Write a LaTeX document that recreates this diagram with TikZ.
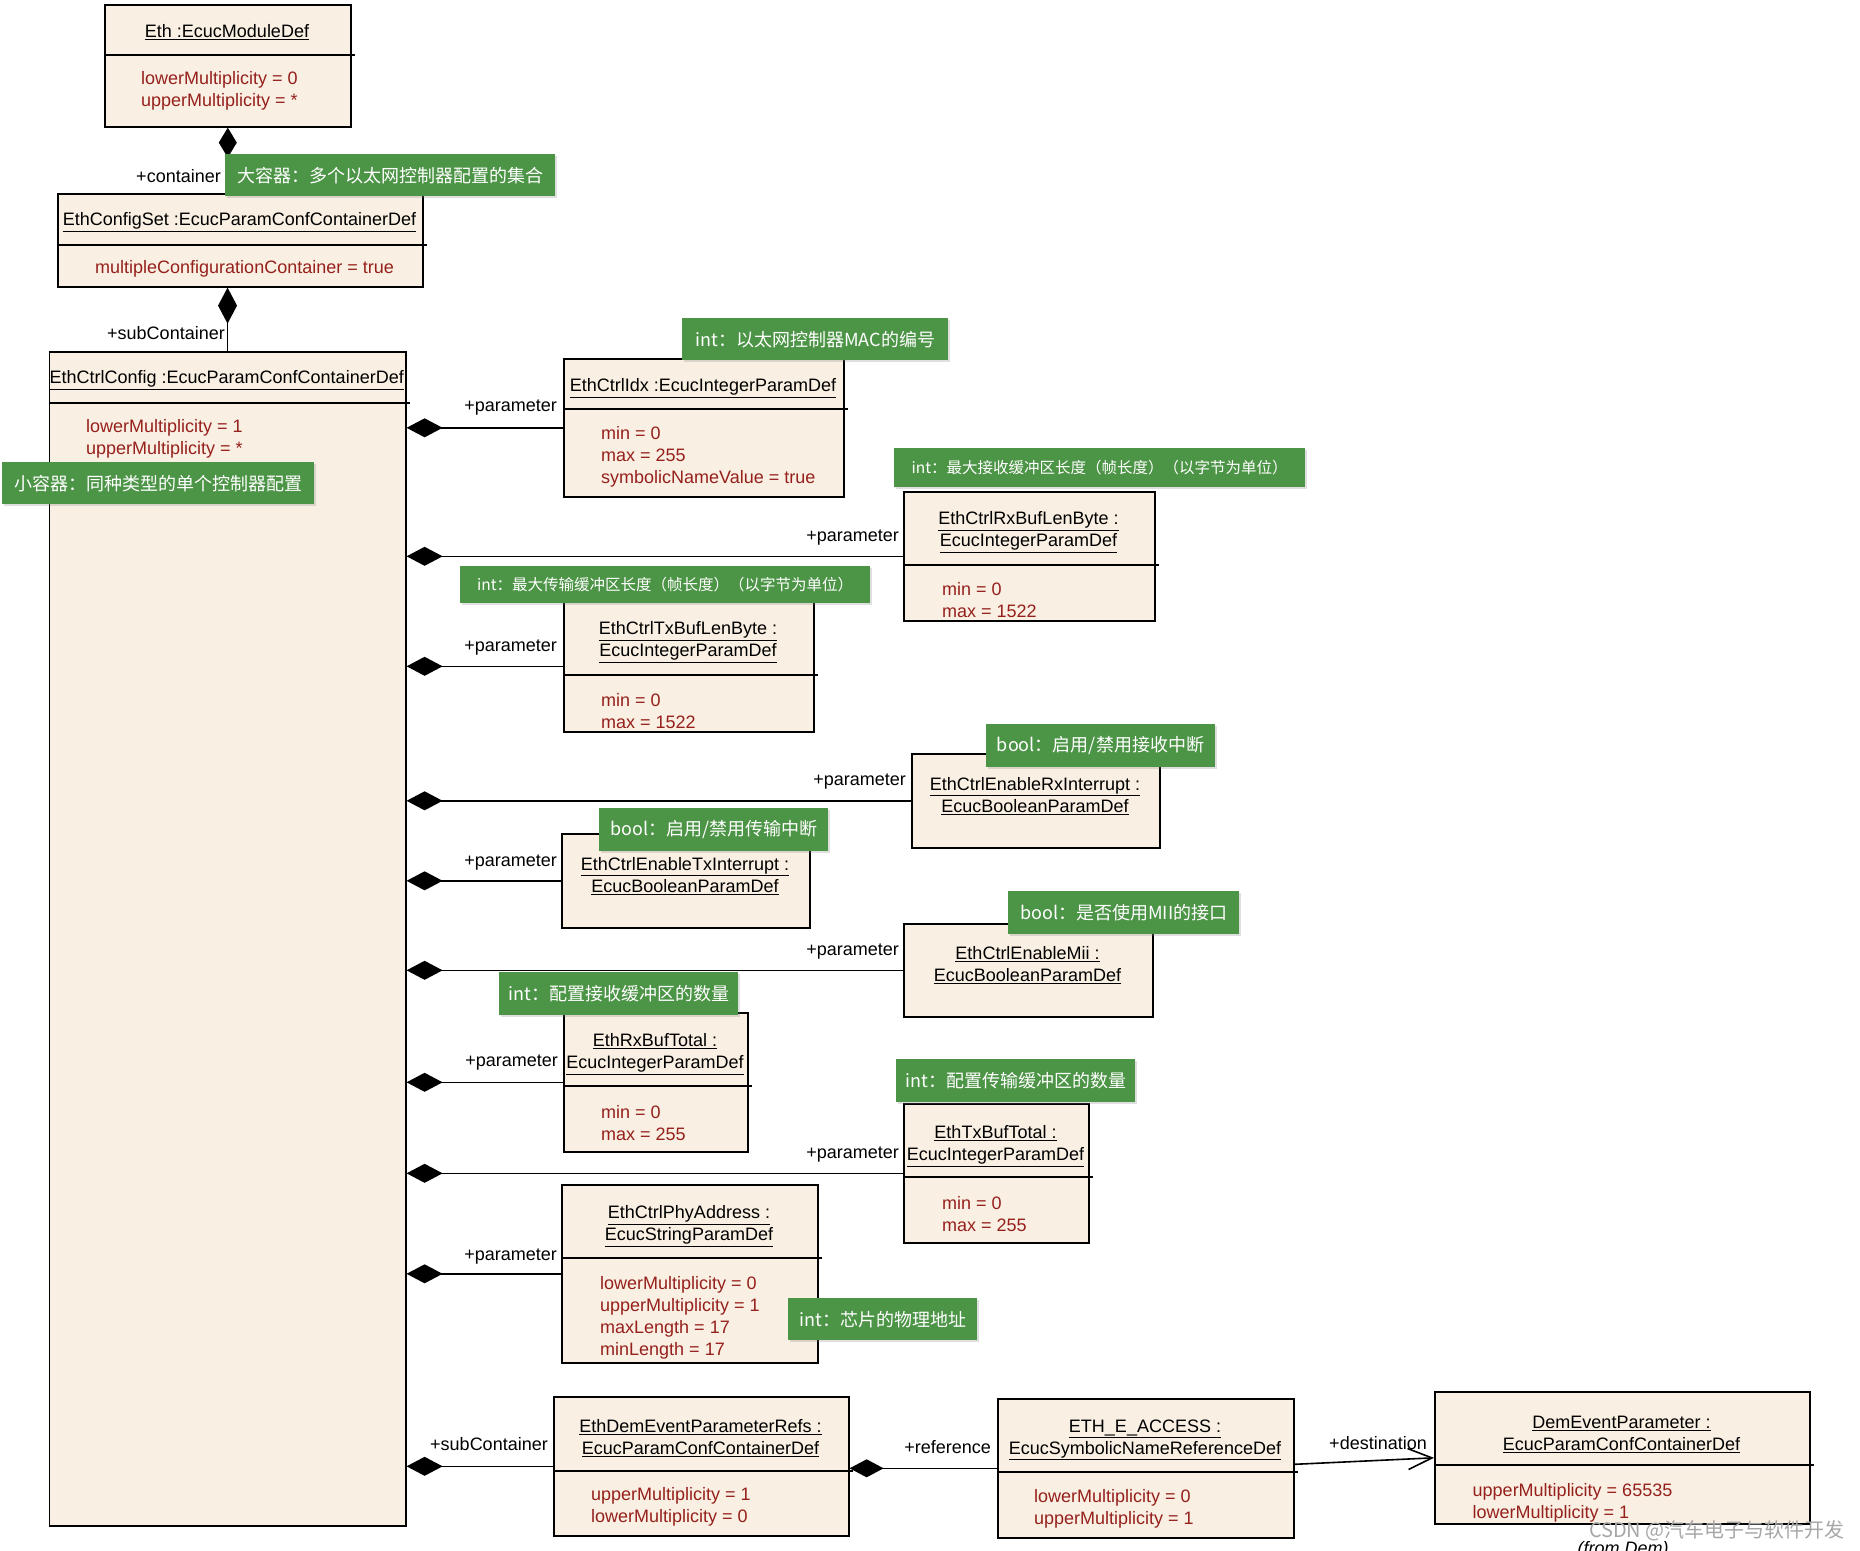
\documentclass[tikz,border=0pt]{standalone}
\usepackage{fontspec}
\setmainfont{Liberation Sans}
\newfontfamily\cjk{Noto Sans CJK SC}
\usetikzlibrary{arrows.meta,positioning,shadows}

\definecolor{boxfill}{RGB}{249,240,227}
\definecolor{attred}{RGB}{150,32,28}
\definecolor{notegreen}{RGB}{76,148,70}
\newcommand{\fs}{\fontsize{18}{22}\selectfont}
\newcommand{\fsn}{\fontsize{15.5}{19}\selectfont}

\tikzset{
  box/.style={draw, line width=1.6pt, fill=boxfill, anchor=north west, inner sep=0pt},
  sepl/.style={line width=1.6pt},
  ttl/.style={font=\fs, align=center, inner sep=0pt},
  att/.style={font=\fs, align=left, text=attred, anchor=west, inner sep=0pt},
  lbl/.style={font=\fs, anchor=east, inner sep=0pt},
  note/.style={fill=notegreen, text=white, font=\cjk\fs, anchor=north west, inner sep=0pt,
    drop shadow={opacity=0.25, shadow xshift=2pt, shadow yshift=-2pt}},
  comp/.style={line width=1.6pt, -{Diamond[length=36pt,width=19pt]}},
  dest/.style={line width=1.6pt, -{Straight Barb[length=24pt,width=21pt]}},
}

\begin{document}
\begin{tikzpicture}[x=1pt,y=-1pt]
\useasboundingbox (0,0) rectangle (1860,1550);

% class boxes
\node[box, minimum width=246pt, minimum height=122pt] (eth) at (104,4) {};
\node[box, minimum width=365pt, minimum height=93pt] (set) at (57,193) {};
\node[box, minimum width=356.5pt, minimum height=1174pt] (cfg) at (48.5,351) {};
\node[box, minimum width=280pt, minimum height=138pt] (idx) at (563,358) {};
\node[box, minimum width=251pt, minimum height=129pt] (rxlen) at (903,491) {};
\node[box, minimum width=250pt, minimum height=131pt] (txlen) at (563,600) {};
\node[box, minimum width=248pt, minimum height=94pt] (rxint) at (911,753) {};
\node[box, minimum width=248pt, minimum height=94pt] (txint) at (561,833) {};
\node[box, minimum width=249pt, minimum height=93pt] (mii) at (903,923) {};
\node[box, minimum width=184pt, minimum height=139pt] (rxtot) at (563,1012) {};
\node[box, minimum width=185pt, minimum height=139pt] (txtot) at (903,1103) {};
\node[box, minimum width=256pt, minimum height=178pt] (phy) at (561,1184) {};
\node[box, minimum width=295pt, minimum height=139pt] (refs) at (553,1396) {};
\node[box, minimum width=296pt, minimum height=139pt] (acc) at (997,1398) {};
\node[box, minimum width=375pt, minimum height=132pt] (dem) at (1434,1391) {};

% compartment lines
\draw[sepl] (eth.west |- 0,55) -- ([xshift=3pt]eth.east |- 0,55);
\draw[sepl] (set.west |- 0,245) -- ([xshift=3pt]set.east |- 0,245);
\draw[sepl] (cfg.west |- 0,403) -- ([xshift=3pt]cfg.east |- 0,403);
\draw[sepl] (idx.west |- 0,409) -- ([xshift=3pt]idx.east |- 0,409);
\draw[sepl] (rxlen.west |- 0,565) -- ([xshift=3pt]rxlen.east |- 0,565);
\draw[sepl] (txlen.west |- 0,675) -- ([xshift=3pt]txlen.east |- 0,675);
\draw[sepl] (rxtot.west |- 0,1086) -- ([xshift=3pt]rxtot.east |- 0,1086);
\draw[sepl] (txtot.west |- 0,1177) -- ([xshift=3pt]txtot.east |- 0,1177);
\draw[sepl] (phy.west |- 0,1258) -- ([xshift=3pt]phy.east |- 0,1258);
\draw[sepl] (refs.west |- 0,1471) -- ([xshift=3pt]refs.east |- 0,1471);
\draw[sepl] (acc.west |- 0,1472) -- ([xshift=3pt]acc.east |- 0,1472);
\draw[sepl] (dem.west |- 0,1465) -- ([xshift=3pt]dem.east |- 0,1465);

% compositions
\draw[line width=1.6pt, -{Diamond[length=30pt,width=18pt]}] (set.north -| eth.south) -- (eth.south);
\draw[comp] (cfg.north) -- (cfg.north |- set.south);
\draw[comp] (idx.west) -- (idx.west -| cfg.east);
\draw[comp] (rxlen.west) -- (rxlen.west -| cfg.east);
\draw[comp] (txlen.west) -- (txlen.west -| cfg.east);
\draw[comp] (rxint.west) -- (rxint.west -| cfg.east);
\draw[comp] (txint.west) -- (txint.west -| cfg.east);
\draw[comp] (mii.west) -- (mii.west -| cfg.east);
\draw[comp] (rxtot.west) -- (rxtot.west -| cfg.east);
\draw[comp] (txtot.west) -- (txtot.west -| cfg.east);
\draw[comp] (phy.west) -- (phy.west -| cfg.east);
\draw[comp] (refs.west) -- (refs.west -| cfg.east);
\draw[line width=1.6pt, -{Diamond[length=34pt,width=18pt]}] (acc.west) -- (acc.west -| refs.east);
\draw[dest] ([yshift=4pt]acc.east) -- (dem.west);

% role names
\node[lbl] (lcont) at (221,176) {+container};
\node[lbl] (lsub) at (225,333) {+subContainer};
\node[lbl] (p1) at (557,408) {+parameter};
\node[lbl] (p2) at (899,538) {+parameter};
\node[lbl] (p3) at (557,648) {+parameter};
\node[lbl] (p4) at (906,782) {+parameter};
\node[lbl] (p5) at (557,863) {+parameter};
\node[lbl] (p6) at (899,952) {+parameter};
\node[lbl] (p7) at (558,1063) {+parameter};
\node[lbl] (p8) at (899,1155) {+parameter};
\node[lbl] (p9) at (557,1257) {+parameter};
\node[lbl] (lsub2) at (548,1444) {+subContainer};
\node[lbl] (lref) at (991,1447) {+reference};
\node[lbl] (ldest) at (1427,1443) {+destination};

% titles
\node[ttl] (eth-t) at (227,32) {\underline{Eth :EcucModuleDef}};
\node[ttl] (set-t) at (239.5,222) {\underline{EthConfigSet :EcucParamConfContainerDef}};
\node[ttl] (cfg-t) at (226.75,380) {\underline{EthCtrlConfig :EcucParamConfContainerDef}};
\node[ttl] (idx-t) at (703,388) {\underline{EthCtrlIdx :EcucIntegerParamDef}};
\node[ttl] (rxlen-t) at (1028.5,532) {\underline{EthCtrlRxBufLenByte :}\\\underline{EcucIntegerParamDef}};
\node[ttl] (txlen-t) at (688,642) {\underline{EthCtrlTxBufLenByte :}\\\underline{EcucIntegerParamDef}};
\node[ttl] (rxint-t) at (1035,796) {\underline{EthCtrlEnableRxInterrupt :}\\\underline{EcucBooleanParamDef}};
\node[ttl] (txint-t) at (685,876) {\underline{EthCtrlEnableTxInterrupt :}\\\underline{EcucBooleanParamDef}};
\node[ttl] (mii-t) at (1027.5,965) {\underline{EthCtrlEnableMii :}\\\underline{EcucBooleanParamDef}};
\node[ttl] (rxtot-t) at (655,1054) {\underline{EthRxBufTotal :}\\\underline{EcucIntegerParamDef}};
\node[ttl] (txtot-t) at (995.5,1146) {\underline{EthTxBufTotal :}\\\underline{EcucIntegerParamDef}};
\node[ttl] (phy-t) at (689,1226) {\underline{EthCtrlPhyAddress :}\\\underline{EcucStringParamDef}};
\node[ttl] (refs-t) at (700.5,1438) {\underline{EthDemEventParameterRefs :}\\\underline{EcucParamConfContainerDef}};
\node[ttl] (acc-t) at (1145,1440) {\underline{ETH\_E\_ACCESS :}\\\underline{EcucSymbolicNameReferenceDef}};
\node[ttl] (dem-t) at (1621.5,1434) {\underline{DemEventParameter :}\\\underline{EcucParamConfContainerDef}};

% attributes
\node[att] (eth-a) at (141,91) {lowerMultiplicity = 0\\upperMultiplicity = *};
\node[att] (set-a) at (95,269) {multipleConfigurationContainer = true};
\node[att] (cfg-a) at (86,438.5) {lowerMultiplicity = 1\\upperMultiplicity = *};
\node[att] (idx-a) at (601,457) {min = 0\\max = 255\\symbolicNameValue = true};
\node[att] (rxlen-a) at (942,600) {min = 0\\max = 1522};
\node[att] (txlen-a) at (601,711) {min = 0\\max = 1522};
\node[att] (rxtot-a) at (601,1123) {min = 0\\max = 255};
\node[att] (txtot-a) at (942,1214) {min = 0\\max = 255};
\node[att] (phy-a) at (600,1318) {lowerMultiplicity = 0\\upperMultiplicity = 1\\maxLength = 17\\minLength = 17};
\node[att] (refs-a) at (591,1507) {upperMultiplicity = 1\\lowerMultiplicity = 0};
\node[att] (acc-a) at (1034,1509) {lowerMultiplicity = 0\\upperMultiplicity = 1};
\node[att] (dem-a) at (1472.5,1502.5) {upperMultiplicity = 65535\\lowerMultiplicity = 1};

\node[font=\itshape\fs, inner sep=0pt] (from) at (1623,1550) {(from Dem)};
\node[font=\cjk\fontsize{20}{24}\selectfont, text=black!35, anchor=east, inner sep=0pt] (wm) at (1845,1531) {CSDN @汽车电子与软件开发};

% notes
\node[note, minimum width=330pt, minimum height=42pt] (n1) at (225,154) {大容器：多个以太网控制器配置的集合};
\node[note, minimum width=312pt, minimum height=42pt] (n2) at (2,462) {小容器：同种类型的单个控制器配置};
\node[note, minimum width=266pt, minimum height=42pt] (n3) at (682,318) {int：以太网控制器MAC的编号};
\node[note, font=\cjk\fsn, minimum width=411pt, minimum height=39pt] (n4) at (894,448) {int：最大接收缓冲区长度（帧长度）（以字节为单位）};
\node[note, font=\cjk\fsn, minimum width=410pt, minimum height=37pt] (n5) at (460,566) {int：最大传输缓冲区长度（帧长度）（以字节为单位）};
\node[note, minimum width=229.5pt, minimum height=43pt] (n6) at (985.5,724) {bool：启用/禁用接收中断};
\node[note, minimum width=229pt, minimum height=43pt] (n7) at (599,808) {bool：启用/禁用传输中断};
\node[note, minimum width=231pt, minimum height=43pt] (n8) at (1008,891) {bool：是否使用MII的接口};
\node[note, minimum width=239pt, minimum height=43pt] (n9) at (499,972) {int：配置接收缓冲区的数量};
\node[note, minimum width=239pt, minimum height=43pt] (n10) at (896,1059) {int：配置传输缓冲区的数量};
\node[note, minimum width=189pt, minimum height=42pt] (n11) at (788,1298) {int：芯片的物理地址};

\end{tikzpicture}
\end{document}
